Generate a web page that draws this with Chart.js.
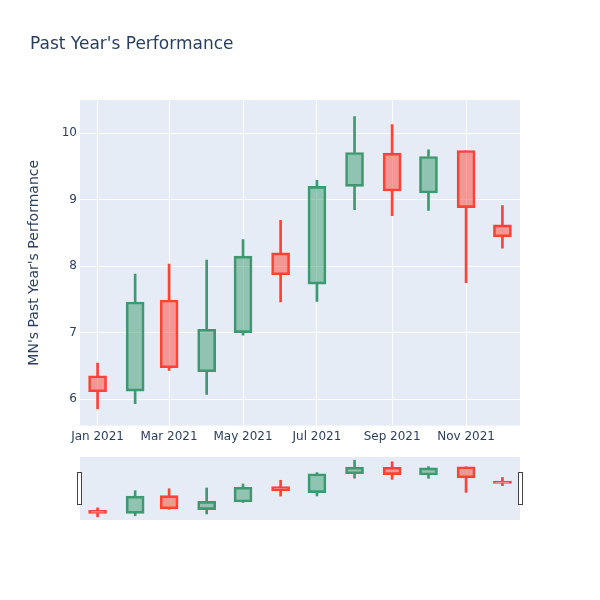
<!DOCTYPE html>
<html>
<head>
<meta charset="utf-8">
<script src="https://cdn.jsdelivr.net/npm/chart.js@4.4.1/dist/chart.umd.min.js"></script>
<style>
    body { margin: 0; background: #fff; }
    #wrap { position: relative; width: 600px; height: 600px; }
    canvas { position: absolute; left: 0; }
</style>
</head>
<body>
<div id="wrap">
    <canvas id="mainChart" width="600" height="450" style="top:0"></canvas>
    <canvas id="sliderChart" width="600" height="80" style="top:450px"></canvas>
</div>
<script>
const dates = [
    "2021-01-01", "2021-02-01", "2021-03-01", "2021-04-01", "2021-05-01", "2021-06-01",
    "2021-07-01", "2021-08-01", "2021-09-01", "2021-10-01", "2021-11-01", "2021-12-01"
];
const openPrices  = [6.35, 6.12, 7.49, 6.41, 7.00, 8.20, 7.73, 9.20, 9.70, 9.10, 9.74, 8.62];
const highPrices  = [6.54, 7.88, 8.03, 8.09, 8.40, 8.69, 9.29, 10.25, 10.13, 9.75, 9.74, 8.91];
const lowPrices   = [5.85, 5.93, 6.43, 6.07, 6.96, 7.46, 7.47, 8.85, 8.76, 8.84, 7.75, 8.27];
const closePrices = [6.11, 7.46, 6.47, 7.05, 8.15, 7.87, 9.20, 9.71, 9.13, 9.65, 8.88, 8.44];

const tickDates = ["2021-01-01", "2021-03-01", "2021-05-01", "2021-07-01", "2021-09-01", "2021-11-01"];
const tickLabels = ["Jan 2021", "Mar 2021", "May 2021", "Jul 2021", "Sep 2021", "Nov 2021"];
const yTicks = [6, 7, 8, 9, 10];

const FONT = '"DejaVu Sans", verdana, arial, sans-serif';
const TEXT = '#2a3f5f';
const UP = '#3d9970', UP_FILL = 'rgba(61,153,112,0.5)';
const DOWN = '#ff4136', DOWN_FILL = 'rgba(255,65,54,0.5)';

/** days since the first date, used as x on a linear axis */
function dayOf(d) {
    return (Date.parse(d) - Date.parse(dates[0])) / 86400000;
}
const days = dates.map(dayOf);
const tickDays = tickDates.map(dayOf);
const isUp = openPrices.map((o, i) => closePrices[i] >= o);

function buildDatasets() {
    const lineCol = isUp.map(u => u ? UP : DOWN);
    const fillCol = isUp.map(u => u ? UP_FILL : DOWN_FILL);
    return [
        { // bodies, drawn on top
            data: days.map((x, i) => ({ x: x, y: [openPrices[i], closePrices[i]] })),
            backgroundColor: fillCol,
            borderColor: lineCol,
            borderWidth: 2,
            borderSkipped: false,
            barThickness: 18,
            grouped: false
        },
        { // upper wicks
            data: days.map((x, i) => ({ x: x, y: [Math.max(openPrices[i], closePrices[i]), highPrices[i]] })),
            backgroundColor: lineCol,
            borderWidth: 0,
            barThickness: 2,
            grouped: false
        },
        { // lower wicks
            data: days.map((x, i) => ({ x: x, y: [lowPrices[i], Math.min(openPrices[i], closePrices[i])] })),
            backgroundColor: lineCol,
            borderWidth: 0,
            barThickness: 2,
            grouped: false
        }
    ];
}

const plotBg = {
    id: 'plotBg',
    beforeDraw(chart) {
        const { ctx, chartArea: a } = chart;
        ctx.save();
        ctx.fillStyle = '#e5ecf6';
        ctx.fillRect(a.left, a.top, a.width, a.height);
        ctx.restore();
    }
};

// the two range slider handles
const grabbers = {
    id: 'grabbers',
    afterDraw(chart) {
        const { ctx, chartArea: a } = chart;
        const cy = (a.top + a.bottom) / 2;
        ctx.save();
        ctx.fillStyle = '#fff';
        ctx.strokeStyle = '#444';
        ctx.lineWidth = 1;
        [a.left - 2.5, a.right - 1.5].forEach(x => {
            ctx.fillRect(x, cy - 16, 4, 32);
            ctx.strokeRect(x, cy - 16, 4, 32);
        });
        ctx.restore();
    }
};

const xMin = -14.5, xMax = 348.5;
const yMin = 5.6, yMax = 10.5;

new Chart(document.getElementById('mainChart'), {
    type: 'bar',
    data: { datasets: buildDatasets() },
    options: {
        responsive: false,
        animation: false,
        layout: { padding: { left: 30, right: 80, top: 0, bottom: 2 } },
        plugins: {
            legend: { display: false },
            tooltip: { enabled: false },
            title: {
                display: true,
                text: "Past Year's Performance",
                align: 'start',
                color: TEXT,
                font: { family: FONT, size: 17, weight: 'normal' },
                padding: { top: 34, bottom: 45.6 }
            }
        },
        scales: {
            x: {
                type: 'linear',
                min: xMin,
                max: xMax,
                offset: false,
                afterBuildTicks: s => { s.ticks = tickDays.map(v => ({ value: v })); },
                ticks: {
                    callback: (v, i) => tickLabels[i],
                    color: TEXT,
                    font: { family: FONT, size: 12 },
                    padding: 4,
                    maxRotation: 0,
                    autoSkip: false
                },
                grid: { color: '#fff', lineWidth: 1, drawTicks: false, offset: false },
                border: { display: false }
            },
            y: {
                min: yMin,
                max: yMax,
                afterBuildTicks: s => { s.ticks = yTicks.map(v => ({ value: v })); },
                afterFit: s => { s.width = 50; },
                title: {
                    display: true,
                    text: "MN's Past Year's Performance",
                    color: TEXT,
                    font: { family: FONT, size: 14 },
                    padding: { top: -4, bottom: 0 }
                },
                ticks: { color: TEXT, font: { family: FONT, size: 12 }, padding: 3 },
                grid: { color: '#fff', lineWidth: 1, drawTicks: false },
                border: { display: false }
            }
        }
    },
    plugins: [plotBg]
});

new Chart(document.getElementById('sliderChart'), {
    type: 'bar',
    data: { datasets: buildDatasets() },
    options: {
        responsive: false,
        animation: false,
        layout: { padding: { left: 80, right: 80, top: 7, bottom: 10 } },
        plugins: { legend: { display: false }, tooltip: { enabled: false } },
        scales: {
            x: { type: 'linear', min: xMin, max: xMax, offset: false, display: false, grid: { offset: false } },
            y: { min: yMin, max: yMax, display: false }
        }
    },
    plugins: [plotBg, grabbers]
});
</script>
</body>
</html>
